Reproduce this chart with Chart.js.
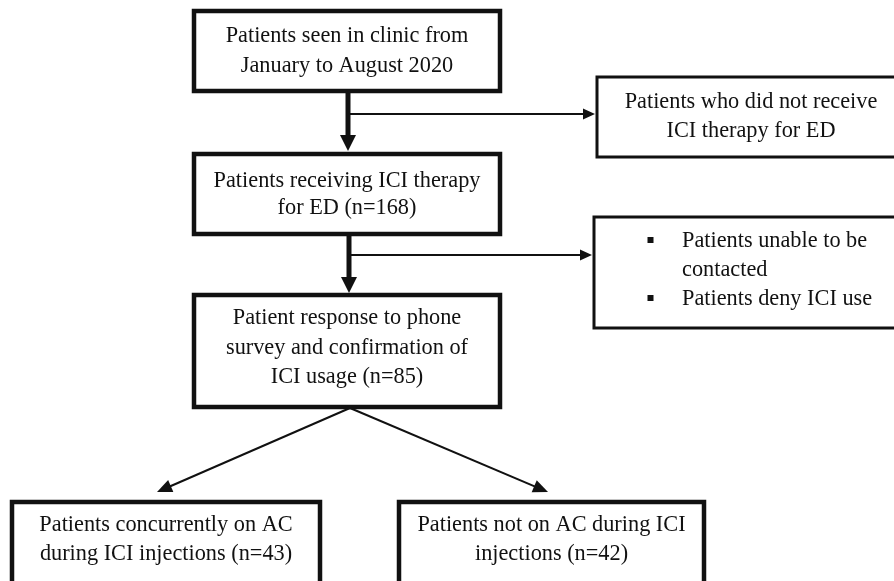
<!DOCTYPE html>
<html>
<head>
<meta charset="utf-8">
<script src="https://cdn.jsdelivr.net/npm/chart.js@4/dist/chart.umd.min.js"></script>
<style>
  html, body { margin: 0; padding: 0; background: #ffffff; }
  #wrap { width: 894px; height: 581px; position: relative; }
</style>
</head>
<body>
<div id="wrap"><canvas id="c"></canvas></div>
<script>
// ---- DATA ----
const stageLabels = [
  ['Patients seen in clinic from', 'January to August 2020'],
  ['Patients receiving ICI therapy', 'for ED'],
  ['Patient response to phone', 'survey and confirmation of', 'ICI usage'],
  ['Patients concurrently on AC', 'during ICI injections'],
  ['Patients not on AC during ICI', 'injections']
];
const stageCounts = [null, 168, 85, 43, 42];
const exclusionLabels = [
  ['Patients who did not receive', 'ICI therapy for ED']
];
const exclusionBulletLines = [['Patients unable to be', 'contacted'], ['Patients deny ICI use']];

// ---- LAYOUT (diagram geometry in scale units) ----
const layout = {
  stages: [
    { x0: 194, y0: 11, x1: 500, y1: 91, base: 42, lh: 29.5, lw: 4.5 },
    { x0: 194, y0: 154, x1: 500, y1: 234, base: 187, lh: 27, lw: 4.5 },
    { x0: 194, y0: 295, x1: 500, y1: 407, base: 324, lh: 29.5, lw: 4.5 },
    { x0: 12, y0: 502, x1: 320, y1: 600, base: 531, lh: 29, lw: 4.5 },
    { x0: 399, y0: 502, x1: 704, y1: 600, base: 531, lh: 29, lw: 4.5 }
  ],
  excl1: { x0: 597, y0: 77, x1: 908, y1: 157, base: 108, lh: 29, cx: 751, lw: 3 },
  excl2: { x0: 594, y0: 217, x1: 908, y1: 328, base: 247, lh: 29, textX: 682, bulletX: 650.5, lw: 3 },
  thick: [ { x: 348, y0: 91, y1: 151, bx: 348, by: 114, tx: 595 },
           { x: 349, y0: 234, y1: 293, bx: 349, by: 255, tx: 592 } ],
  diag: { x: 350, y: 408, targets: [[157, 492], [548, 492]] }
};

const FONT = '22.3px "Liberation Serif", "Times New Roman", serif';
const INK = '#111111';

function stageText(i) {
  const lines = stageLabels[i].slice();
  if (stageCounts[i] !== null) {
    lines[lines.length - 1] = lines[lines.length - 1] + ' (n=' + stageCounts[i] + ')';
  }
  return lines;
}

const flowPlugin = {
  id: 'flow',
  beforeDraw(chart) {
    const ctx = chart.ctx;
    ctx.save();
    ctx.fillStyle = '#ffffff';
    ctx.fillRect(0, 0, chart.width, chart.height);
    ctx.restore();
  },
  afterDatasetsDraw(chart) {
    const ctx = chart.ctx;
    const X = v => chart.scales.x.getPixelForValue(v);
    const Y = v => chart.scales.y.getPixelForValue(v);

    function box(b) {
      ctx.save();
      ctx.fillStyle = '#ffffff';
      ctx.strokeStyle = INK;
      ctx.lineWidth = b.lw;
      const x = X(b.x0), y = Y(b.y0), w = X(b.x1) - X(b.x0), h = Y(b.y1) - Y(b.y0);
      ctx.fillRect(x, y, w, h);
      ctx.strokeRect(x, y, w, h);
      ctx.restore();
    }
    function head(tx, ty, fx, fy, len, half) {
      const ang = Math.atan2(ty - fy, tx - fx);
      ctx.beginPath();
      ctx.moveTo(tx, ty);
      ctx.lineTo(tx - len * Math.cos(ang) + half * Math.sin(ang), ty - len * Math.sin(ang) - half * Math.cos(ang));
      ctx.lineTo(tx - len * Math.cos(ang) - half * Math.sin(ang), ty - len * Math.sin(ang) + half * Math.cos(ang));
      ctx.closePath();
      ctx.fill();
    }
    function line(x0, y0, x1, y1, lw) {
      ctx.beginPath();
      ctx.lineWidth = lw;
      ctx.moveTo(x0, y0);
      ctx.lineTo(x1, y1);
      ctx.stroke();
    }

    ctx.save();
    ctx.strokeStyle = INK;
    ctx.fillStyle = INK;
    ctx.lineCap = 'butt';

    // thick trunk arrows with side branches
    layout.thick.forEach(t => {
      line(X(t.bx), Y(t.by), X(t.tx) - 10, Y(t.by), 2);
      head(X(t.tx), Y(t.by), X(t.bx), Y(t.by), 12, 5.5);
      line(X(t.x), Y(t.y0), X(t.x), Y(t.y1) - 14, 5);
      head(X(t.x), Y(t.y1), X(t.x), Y(t.y0), 16, 8);
    });
    // diagonal arrows
    layout.diag.targets.forEach(([tx, ty]) => {
      const fx = X(layout.diag.x), fy = Y(layout.diag.y);
      const ex = X(tx), ey = Y(ty);
      const ang = Math.atan2(ey - fy, ex - fx);
      line(fx, fy, ex - 12 * Math.cos(ang), ey - 12 * Math.sin(ang), 2);
      head(ex, ey, fx, fy, 15, 6.5);
    });
    ctx.restore();

    // stage boxes
    layout.stages.forEach((b, i) => {
      box(b);
      ctx.save();
      ctx.font = FONT;
      ctx.fillStyle = INK;
      ctx.textAlign = 'center';
      ctx.textBaseline = 'alphabetic';
      const cx = (X(b.x0) + X(b.x1)) / 2;
      stageText(i).forEach((s, k) => ctx.fillText(s, cx, Y(b.base + k * b.lh)));
      ctx.restore();
    });

    // exclusion box 1
    const e1 = layout.excl1;
    box(e1);
    ctx.save();
    ctx.font = FONT;
    ctx.fillStyle = INK;
    ctx.textAlign = 'center';
    exclusionLabels[0].forEach((s, k) => ctx.fillText(s, X(e1.cx), Y(e1.base + k * e1.lh)));
    ctx.restore();

    // exclusion box 2 (bulleted)
    const e2 = layout.excl2;
    box(e2);
    ctx.save();
    ctx.font = FONT;
    ctx.fillStyle = INK;
    ctx.textAlign = 'left';
    let k = 0;
    exclusionBulletLines.forEach(lines => {
      const by = Y(e2.base + k * e2.lh);
      ctx.fillRect(X(e2.bulletX) - 3, by - 10, 6, 6);
      lines.forEach(s => {
        ctx.fillText(s, X(e2.textX), Y(e2.base + k * e2.lh));
        k++;
      });
    });
    ctx.restore();
  }
};

new Chart(document.getElementById('c'), {
  type: 'scatter',
  data: {
    datasets: [{
      label: 'stages',
      data: stageCounts.map((n, i) => ({
        x: (layout.stages[i].x0 + layout.stages[i].x1) / 2,
        y: (layout.stages[i].y0 + layout.stages[i].y1) / 2
      })),
      pointRadius: 0,
      pointHoverRadius: 0
    }]
  },
  options: {
    responsive: true,
    maintainAspectRatio: false,
    animation: false,
    layout: { padding: 0 },
    plugins: { legend: { display: false }, tooltip: { enabled: false } },
    events: [],
    scales: {
      x: { type: 'linear', min: 0, max: 894, display: false },
      y: { type: 'linear', min: 0, max: 581, reverse: true, display: false }
    }
  },
  plugins: [flowPlugin]
});
</script>
</body>
</html>
